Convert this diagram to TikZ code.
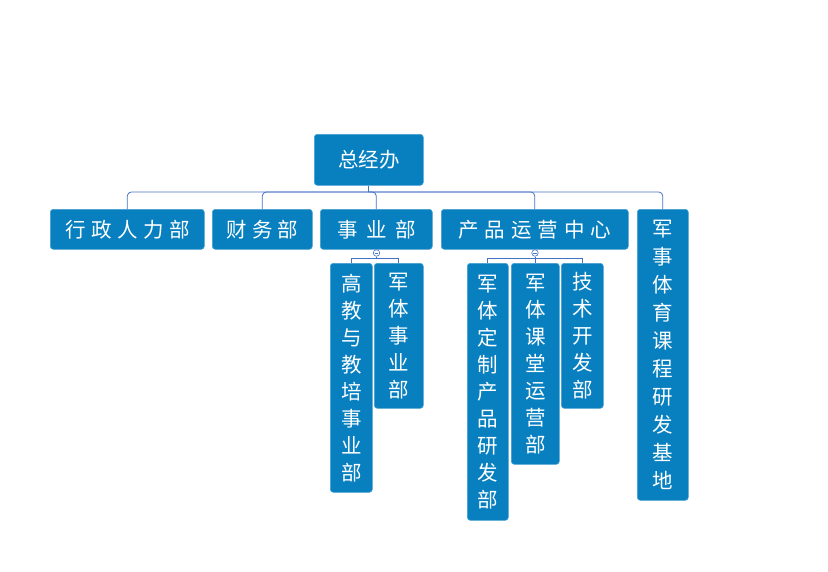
\documentclass[tikz,border=0pt]{standalone}
\usepackage{fontspec}
\setmainfont{Noto Sans CJK SC}
\begin{document}
\begin{tikzpicture}[x=1pt,y=-1pt,
  box/.style={draw=boxc!75!white, line width=0.6pt, fill=boxc, rounded corners=3pt, inner sep=0pt, text=white, anchor=north west},
  htxt/.style={font=\fontsize{20.5}{24}\selectfont},
  vtxt/.style={font=\fontsize{20.5}{27}\selectfont, align=center},
  conn/.style={draw=linec, line width=0.8pt, rounded corners=4pt},
  toggle/.style={circle, draw=linec, fill=white, line width=0.6pt, minimum size=6.5pt, inner sep=0pt}
]
\definecolor{boxc}{RGB}{8,128,192}
\definecolor{linec}{RGB}{68,114,196}
\newcommand\gapsp[1]{\hspace{#1pt}}
\useasboundingbox (0,0) rectangle (828,571);
% top
\node[box, minimum width=109pt, minimum height=51pt, htxt] (top) at (314,134) {总经办};
% level 1
\node[box, minimum width=154pt, minimum height=40pt, htxt] (xz) at (50,209) {行\gapsp{5.5}政\gapsp{5.5}人\gapsp{5.5}力\gapsp{5.5}部};
\node[box, minimum width=100pt, minimum height=40pt, htxt] (cw) at (212,209) {财\gapsp5务\gapsp5部};
\node[box, minimum width=112pt, minimum height=40pt, htxt] (sy) at (320,209) {事\gapsp{8.5}业\gapsp{8.5}部};
\node[box, minimum width=187pt, minimum height=40pt, htxt] (cp) at (441,209) {产\gapsp6品\gapsp6运\gapsp6营\gapsp6中\gapsp6心};
\node[box, minimum width=51pt, minimum height=291pt, vtxt, font=\fontsize{20.5}{28}\selectfont] (js) at (637,209) {军\\事\\体\\育\\课\\程\\研\\发\\基\\地};
% level 2
\node[box, minimum width=42pt, minimum height=229pt, vtxt] (gj) at (330,263) {高\\教\\与\\教\\培\\事\\业\\部};
\node[box, minimum width=49pt, minimum height=145pt, vtxt] (jt) at (374,263) {军\\体\\事\\业\\部};
\node[box, minimum width=41pt, minimum height=257pt, vtxt] (dz) at (467,263) {军\\体\\定\\制\\产\\品\\研\\发\\部};
\node[box, minimum width=48pt, minimum height=201pt, vtxt] (kt) at (511,263) {军\\体\\课\\堂\\运\\营\\部};
\node[box, minimum width=42pt, minimum height=145pt, vtxt] (js2) at (561,263) {技\\术\\开\\发\\部};
% bus
\coordinate (bus) at (0,192);
\coordinate (hub) at (top.south |- bus);
\draw[conn] (top.south) -- (hub);
\foreach \c in {xz,cw,sy,cp,js}
  \draw[conn] (hub) -| (\c.north);
% toggles
\node[toggle] (t1) at (376.5,253) {};
\draw[linec, line width=0.5pt] ([xshift=-1.7pt]t1.center) -- ([xshift=1.7pt]t1.center);
\node[toggle] (t2) at (535,253) {};
\draw[linec, line width=0.5pt] ([xshift=-1.7pt]t2.center) -- ([xshift=1.7pt]t2.center);
\coordinate (sb) at (0,258);
\foreach \c in {gj,jt}
  \draw[conn, rounded corners=0pt] (t1.south) -- (t1.south |- sb) -| (\c.north);
\foreach \c in {dz,kt,js2}
  \draw[conn, rounded corners=0pt] (t2.south) -- (t2.south |- sb) -| (\c.north);
\end{tikzpicture}
\end{document}
